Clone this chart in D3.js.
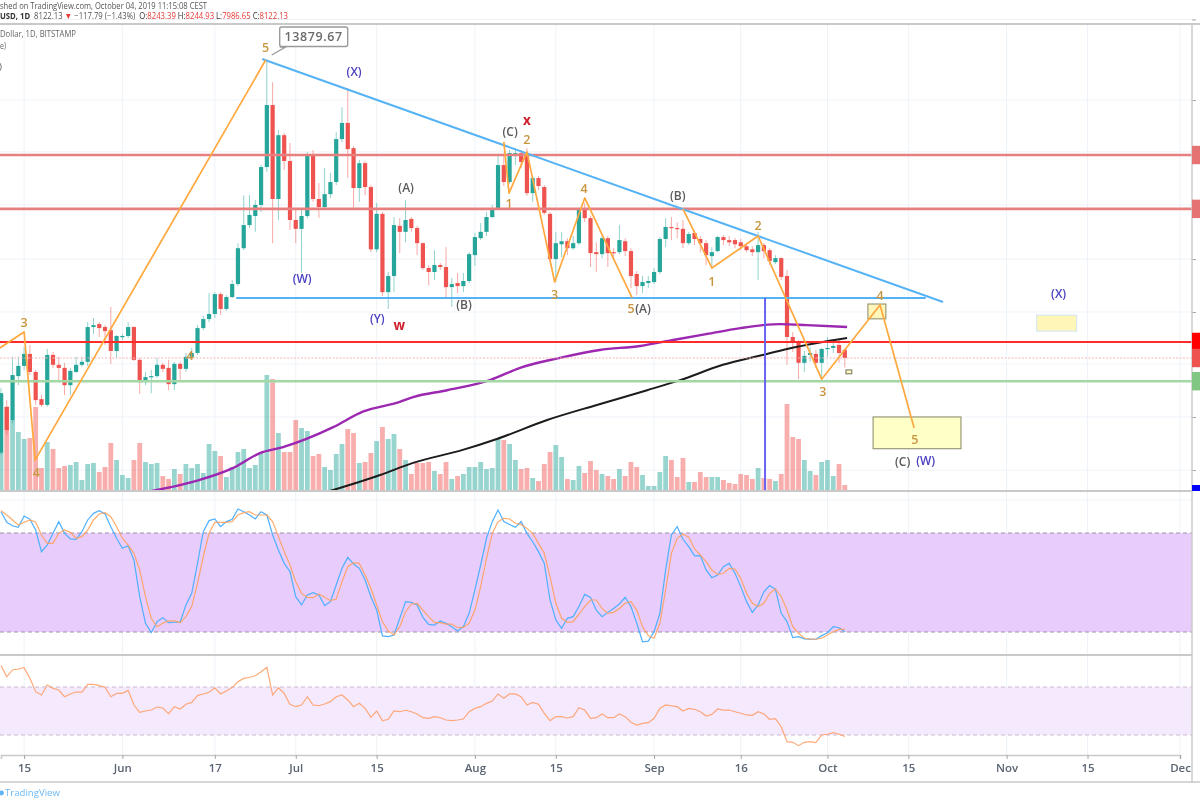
<!DOCTYPE html>
<html><head><meta charset="utf-8">
<script src="https://cdn.jsdelivr.net/npm/d3@7"></script>
<style>
html,body{margin:0;padding:0;background:#fff;overflow:hidden}
svg{display:block;filter:blur(.45px)}
text{font-family:"Open Sans","Liberation Sans",sans-serif}
</style></head><body>
<svg id="c" width="1200" height="800"></svg>
<script>
// ---------- data ----------
const opens=[6850,7440,7265,7862,8008,8182,7921,7543,7465,8167,8023,7979,7735,7921,8023,8066,8587,8633,8587,8540,8225,8435,8450,8587,8095,7777,7848,7862,8023,7979,7749,8037,7965,8139,8196,8571,8711,8791,9111,8871,9063,9277,9895,10315,10485,10695,11450,12800,10810,12125,11575,10410,10245,10485,11700,10810,10655,10905,11145,12040,12395,11845,11025,11530,11045,9875,10525,9143,9413,10300,10190,10430,10260,9985,9549,9480,9600,9566,9226,9294,9243,9328,9773,10075,10190,10465,10620,11490,11145,11720,11740,11740,10925,11225,11045,10525,9703,9965,10020,9895,9985,10600,10445,9825,9790,10075,9825,9825,10020,9843,9447,9243,9294,9311,9480,10060,10280,10260,10245,9985,10170,10060,9985,9755,9843,10095,10040,10040,10000,9930,9875,9825,9950,9860,9650,9720,9413,8435,8360,8052,8167,8182,8052,8255,8270,8315,8243];
const highs=[7693,7530,8139,8139,8285,8315,7950,7600,8255,8210,8139,8052,7979,8139,8139,8664,8727,8664,8617,8903,8465,8480,8664,8602,8124,7921,7950,8124,8052,8095,8066,8066,8196,8270,8617,8760,9127,9143,9143,9095,9345,9985,10885,10885,10790,11490,13880,13335,12235,12170,11955,10600,10640,11760,11805,11125,11430,11330,12190,12750,13195,11890,11595,11575,11085,10735,10560,9480,10465,10445,10790,10465,10300,10000,9600,9860,9635,9913,9380,9464,9464,9825,10170,10355,10560,10695,11700,11740,11805,11845,11805,11845,11265,11265,11085,10560,10190,10190,10075,10115,10640,10735,10485,10000,10115,10115,9895,10315,10075,9895,9498,9413,9413,9549,10095,10445,10465,10370,10410,10190,10225,10115,10040,9913,10115,10130,10115,10075,10060,9985,9930,10190,9985,9895,9773,9738,9515,8510,8390,8225,8285,8240,8270,8435,8375,8390,8245];
const lows=[6825,7070,7225,7735,7950,7877,7465,7440,7440,7979,7805,7600,7600,7907,7994,8008,8480,8435,8315,8037,8124,8390,8420,8080,7612,7735,7625,7833,7921,7665,7665,7805,7921,8095,8167,8540,8664,8727,8775,8839,9047,9243,9860,10260,10190,10560,11350,9985,10410,11390,10225,9985,9464,10445,10755,10445,10600,10830,11085,11975,11225,10640,10755,10885,9825,9825,9079,8871,9143,9808,10000,10190,9773,9515,9260,9345,9515,9063,8903,9127,9143,9294,9583,10040,10115,10445,10600,11065,11105,11490,11430,10870,10755,10985,10505,9650,9311,9738,9773,9860,9950,10370,9566,9480,9720,9566,9720,9790,9755,9209,9095,9127,9209,9277,9447,9913,10040,10075,9895,9950,9950,9825,9600,9566,9825,9950,9930,9895,9860,9825,9755,9345,9720,9600,9617,9345,8023,8210,7819,7921,8066,7979,7819,8139,8196,8052,7986];
const closes=[7625,7135,7877,8008,8182,7921,7530,7465,8167,8023,7979,7735,7936,8023,8066,8587,8617,8571,8525,8225,8450,8450,8587,8095,7777,7848,7862,8023,7965,7749,8037,7965,8139,8196,8571,8711,8791,9111,8871,9063,9277,9895,10315,10505,10695,11450,12800,10810,12125,11575,10410,10245,10485,11700,10810,10655,10905,11145,12040,12395,11825,11025,11530,11045,9875,10525,9143,9413,10315,10190,10410,10260,9985,9549,9480,9600,9566,9226,9277,9243,9328,9790,10095,10190,10465,10600,11490,11145,11740,11740,11555,10925,11225,11065,10545,9703,9985,10020,9895,9985,10600,10445,9808,9790,10075,9808,9808,10040,9843,9413,9243,9311,9328,9480,10060,10280,10260,10245,9985,10150,10060,9985,9773,9825,10095,10040,10000,9965,9930,9860,9825,9950,9843,9668,9720,9396,8435,8345,8052,8153,8196,8052,8255,8270,8300,8196,8122.13];
const volumes=[96,84,71,59,52,53,84,23,49,42,23,25,26,29,11,27,28,19,24,48,31,16,13,31,48,29,27,28,15,12,22,17,27,23,27,18,47,40,35,14,24,39,42,23,26,38,116,112,58,39,39,71,63,60,35,37,24,21,37,47,62,58,28,29,38,50,
64,52,57,42,31,17,28,28,29,20,17,29,12,15,17,24,24,29,22,23,52,51,47,31,22,23,13,10,27,39,46,34,12,11,25,18,30,21,17,15,12,22,15,29,24,16,5,5,19,35,31,14,33,9,9,19,14,14,14,11,8,7,17,16,12,23,13,12,10,17,87,54,52,31,20,16,29,31,15,27,6];
const stochK=[92.9,86.5,84.4,83.4,90.3,88.3,81.8,68.7,72.7,79.8,86.9,79.8,76.4,76.2,80.8,87.9,91.9,93.5,91.5,83.8,76.8,70.7,72.3,63.6,41.4,25.3,19.6,26.3,28.7,25.7,25.9,25.9,36.4,43.4,61.6,80.8,87.5,88.5,83.8,86.9,88.3,94.5,92.9,90.9,88.5,92.9,90.9,78.8,69.7,61.6,56.6,41.4,36.4,42.4,43.8,42.4,36,38.4,48.5,58.6,65.2,61.2,58.6,51.5,41.4,33.3,17.6,17.2,18.2,28.3,38.4,38,36.4,28.9,24.6,24.2,26.7,
25.3,23.2,20.6,23.2,31.3,45.5,60.6,76.8,86.9,93.9,86.9,85.2,83.4,86.9,79.8,74.7,68.7,61.6,39.4,27.3,22.2,28.3,29.3,35.4,42.8,41,33.3,29.3,31.9,34.3,37,41,35.4,25.3,14.1,14.5,20.2,31.3,57.6,78.8,83.8,76.2,71.7,66.1,66.3,57.6,52.9,54.5,59.6,61.6,55.6,47.5,38.4,31.9,36.4,44.4,48.1,45.9,31.3,26.3,16.6,17.2,15.8,15.6,15.6,17.8,19.6,23.2,22.6,20.2];
const stochD=[93.5,90.9,87.9,84.8,86.5,87.9,86.5,78.8,73.7,73.7,79.8,81.8,80.4,76.8,77.8,81.8,87.9,91.5,92.3,89.9,83.8,76.8,72.7,67.7,57.6,41.4,28.3,23.2,25.3,26.7,26.7,25.7,29.3,35.4,49.5,65.7,79.8,86.5,86.5,86.5,86.9,90.9,92.3,92.9,90.9,90.9,90.9,86.9,77.8,68.7,60.6,50.5,43.4,41,40.8,43,41,39,40,50.5,59.6,62,61.6,54.5,46.5,36.4,26.3,20.6,18.2,23.2,32.3,37,37.4,33.3,29.3,25.7,25.7,
24.8,24.8,22.6,22.8,25.3,33.3,47.5,64.6,79.8,86.9,88.9,88.5,85.9,85.2,82.8,79.8,73.7,67.7,53.5,37.4,28.3,25.9,26.3,30.9,35.4,39.4,39.4,34.3,31.3,31.9,34.3,37.4,38.4,33.3,23.2,17.8,16.2,25.3,45.5,67.7,76.8,79.2,77.4,70.3,66.7,62.6,57.6,54.9,55.6,58.6,58.2,52.5,43.4,37.4,35.4,37.4,43.4,46.1,41.4,33.3,23.2,19.2,16.2,15.8,15.6,16.2,18.2,20.2,21.6,21.8];
const rsi=[87.8,78.6,84.2,85,86.1,77.2,66.1,63.3,71.7,68.9,67.5,61.9,64.2,65.8,65.8,72.2,72.2,71.1,69.7,61.9,64.7,64.7,67.2,55,48.9,50,50.8,53.3,52.5,47.8,53.6,51.7,55.6,57.2,62.8,64.2,65.6,69.4,64.2,66.7,69.7,74.4,77.2,78.1,79.4,82.8,86.4,63.3,69.4,64.7,55.6,53.6,55,61.9,55,54.4,55.8,57.8,61.9,63.3,59.2,53.6,56.4,52.2,44.7,50,41.9,43.1,50,49.4,50.6,49.4,47.5,44.4,43.9,45.3,44.4,
42.5,41.9,42.5,43.3,49.4,52.2,53.6,56.4,58.3,64.2,60.6,64.2,64.2,61.9,55,57.2,55.6,48.1,41.9,45.3,45.3,44.2,45.3,52.8,50.8,43.9,44.4,47.5,44.4,44.4,47.5,45.3,40.6,38.3,39.7,40.3,43.9,52.2,55,54.2,53.6,50,52.2,51.4,49.4,45.8,47.2,51.7,50.8,50.8,49.4,48.1,46.7,46.4,49.4,47.5,43.1,43.6,36.9,24.4,23.9,21.1,23.9,24.4,23.6,30,30.6,31.9,30.6,28.9];
// [days since 11 May, price]
const maPurple=[[26.1,6394],[34.4,6524],[40.1,6664],[44.8,6845],[48.8,6920],[57.4,7170],[62.6,7375],[69,7505],[71.3,7570],[77.2,7665],[84.6,7805],[89.8,7979],[96.7,8124],[103.6,8240],[110.6,8300],[116.3,8390],[122.1,8480],[127.9,8570],[131.8,8617],[134.8,8633],[139.4,8617],[146.4,8587]];
const maBlack=[[56.9,6394],[65.6,6581],[71.3,6726],[79.9,6885],[85.8,7021],[94.5,7265],[103.1,7465],[111.8,7665],[117.5,7805],[124.9,8023],[131.8,8167],[136,8255],[141.2,8345],[146.4,8420]];
const trendUpper=[[45.2,13905],[163,8982]];
const trendLower=[[40.7,9048],[160,9048]];
const waveA=[[-0.2,8270],[4,8511],[5.9,6760],[45.8,13880]];
const waveB=[[87,11978],[87.9,10925],[91,11765],[95.8,9311],[101,10830],[109.2,9048]];
const waveC=[[118,10620],[123,9549],[131,10115],[142,7819],[152.1,8934],[158,7161]];
const blueVertical=[132.2,9048];
const levelPrices=[11700,10620,8360,8122.13,7790];
const levelColors=["#e77f7f","#e77f7f","#ff2a2a","#f6b6b6","#a3d7a3"];
const levelWidths=[2.6,2.6,2,1,2.6];
const tagColors=["#e57373","#e57373","#ff0000","#ef5350","#81c784"];
const gridPrices=[14930,12915,11765,10695,9703,8823,8037,7305,6640];
const boxes=[ // [day0, price0, day1, price1, fill, stroke]
 [150,8950,153.1,8715,"#fff6bb","#9a9a78"],
 [179.2,8773,186.1,8525,"#fff6b8","#d6e8ee"],
 [150.9,7305,166.1,6900,"#ffffc8","#9a9a78"],
 [146.2,7950,147.2,7895,"#fff6bb","#8a8a70"]];
const tickDates=[[2019,4,15,"15"],[2019,5,1,"Jun"],[2019,5,17,"17"],[2019,6,1,"Jul"],[2019,6,15,"15"],[2019,7,1,"Aug"],[2019,7,15,"15"],[2019,8,1,"Sep"],[2019,8,16,"16"],[2019,9,1,"Oct"],[2019,9,15,"15"],[2019,10,1,"Nov"],[2019,10,15,"15"],[2019,11,1,"Dec"]];
const waveLabels=[["5",45.8,14183,"o"],["3",4,8664,"o"],["4",6.1,6605,"o"],["4",32.7,8153,"o"],["2",91,12040,"o"],["1",87.9,10715,"o"],["4",100.9,11025,"o"],["3",95.8,9111,"o"],["5",109,8871,"o"],["2",131,10315,"o"],["1",123,9328,"o"],["3",142.2,7652,"o"],["4",152.1,9095,"o"],["5",158.1,7021,"o"],
 ["(X)",61.1,13585,"b"],["(W)",52.1,9362,"b"],["(Y)",65.1,8727,"b"],["(X)",183,9127,"b"],["(W)",160,6760,"b"],
 ["(C)",88.1,12215,"k"],["(A)",70.1,11045,"k"],["(B)",80.1,8950,"k"],["(A)",111.1,8871,"k"],["(B)",117.1,10885,"k"],["(C)",156,6745,"k"],
 ["x",91,12460,"r"],["w",68.9,8617,"r"]];
const labelColors={o:"#c9963f",b:"#4a40c0",k:"#5a5a5a",r:"#d0202e"};
const headerLine1="shed on TradingView.com, October 04, 2019 11:15:08 CEST";
// text, colour, bold
const headerParts=[["USD, 1D  ","#333",true],["8122.13 ","#555",false],["▼ ","#e53935",false],["−117.79 (−1.43%)  ","#555",false],["O:","#333",false],["8243.39 ","#e53935",false],["H:","#333",false],["8244.93 ","#e53935",false],["L:","#333",false],["7986.65 ","#e53935",false],["C:","#333",false],["8122.13","#e53935",false]];
const legendLines=[["Dollar, 1D, BITSTAMP",0,37,76],["e)",0,49,6],[")",-1,70,3]];
const highLabel="13879.67";

// ---------- scales ----------
const start=new Date(2019,4,11);
const dayToDate=d=>new Date(+start+d*864e5);
const x=d3.scaleTime().domain([start,new Date(2019,11,1)]).range([1,1180]);
const y=d3.scaleLog().domain([8122.13,13879.67]).range([358,60]);
const yVol=d3.scaleLinear().domain([0,120]).range([491,371]);
const yStoch=d3.scaleLinear().domain([20,80]).range([632,533]);
const yRsi=d3.scaleLinear().domain([30,70]).range([735,687]);
const X=d=>x(dayToDate(d));
const AXIS_X=1192,PANE_TOP=25,MAIN_BOTTOM=491,STOCH_BOTTOM=655,AXIS_Y=755,BOTTOM=782;

const svg=d3.select("#c");
svg.append("rect").attr("width",1200).attr("height",800).attr("fill","#fff");
const defs=svg.append("defs");
defs.append("clipPath").attr("id","m").append("rect").attr("x",0).attr("y",PANE_TOP).attr("width",AXIS_X).attr("height",MAIN_BOTTOM-PANE_TOP);
defs.append("clipPath").attr("id","s").append("rect").attr("x",0).attr("y",MAIN_BOTTOM).attr("width",AXIS_X).attr("height",STOCH_BOTTOM-MAIN_BOTTOM);
defs.append("clipPath").attr("id","r").append("rect").attr("x",0).attr("y",STOCH_BOTTOM).attr("width",AXIS_X).attr("height",AXIS_Y-STOCH_BOTTOM);

// ---------- grid ----------
const tickValues=tickDates.map(t=>new Date(t[0],t[1],t[2]));
const tickLabels=new Map(tickValues.map((d,i)=>[+d,tickDates[i][3]]));
const grid=svg.append("g").attr("stroke","#eef3f9").attr("stroke-width",1);
grid.selectAll("line.v").data(tickValues).join("line").attr("class","v").attr("x1",d=>x(d)).attr("x2",d=>x(d)).attr("y1",PANE_TOP).attr("y2",AXIS_Y);
grid.selectAll("line.h").data(gridPrices).join("line").attr("class","h").attr("x1",0).attr("x2",AXIS_X).attr("y1",d=>y(d)).attr("y2",d=>y(d));
const stochGrid=[100,60,40],rsiGrid=[60,40];
grid.selectAll("line.s").data(stochGrid).join("line").attr("class","s").attr("x1",0).attr("x2",AXIS_X).attr("y1",d=>yStoch(d)).attr("y2",d=>yStoch(d));
grid.selectAll("line.r").data(rsiGrid).join("line").attr("class","r").attr("x1",0).attr("x2",AXIS_X).attr("y1",d=>yRsi(d)).attr("y2",d=>yRsi(d));

// ---------- main pane ----------
const main=svg.append("g").attr("clip-path","url(#m)");
const idx=d3.range(closes.length);
const up=i=>closes[i]>=opens[i];
main.append("g").selectAll("rect").data(idx).join("rect")
 .attr("x",i=>X(i)-2.4).attr("width",4.8).attr("y",i=>yVol(volumes[i])).attr("height",i=>yVol(0)-yVol(volumes[i]))
 .attr("fill",i=>up(i)?"#26a69a":"#ef5350").attr("opacity",.47);
const line=d3.line().x(d=>X(d[0])).y(d=>y(d[1]));
const smooth=d3.line().x(d=>X(d[0])).y(d=>y(d[1])).curve(d3.curveMonotoneX);
main.append("g").selectAll("line").data(idx).join("line")
 .attr("x1",i=>X(i)).attr("x2",i=>X(i)).attr("y1",i=>y(highs[i])).attr("y2",i=>y(lows[i]))
 .attr("stroke",i=>up(i)?"#26a69a":"#ef5350").attr("stroke-width",1).attr("opacity",.5);
main.append("g").selectAll("rect").data(idx).join("rect")
 .attr("x",i=>X(i)-2.1).attr("width",4.2)
 .attr("y",i=>y(Math.max(opens[i],closes[i])))
 .attr("height",i=>Math.max(1.2,Math.abs(y(opens[i])-y(closes[i]))))
 .attr("fill",i=>up(i)?"#26a69a":"#ef5350");
// moving averages
main.append("path").attr("d",smooth(maPurple)).attr("fill","none").attr("stroke","#9c27b0").attr("stroke-width",2.4);
main.append("path").attr("d",smooth(maBlack)).attr("fill","none").attr("stroke","#1c1c1c").attr("stroke-width",2);
// levels
main.append("g").selectAll("line").data(levelPrices).join("line")
 .attr("x1",0).attr("x2",AXIS_X).attr("y1",d=>y(d)).attr("y2",d=>y(d))
 .attr("stroke",(d,i)=>levelColors[i]).attr("stroke-width",(d,i)=>levelWidths[i])
 .attr("stroke-dasharray",(d,i)=>i===3?"2 1.5":null);
// boxes
main.append("g").selectAll("rect").data(boxes).join("rect")
 .attr("x",d=>X(d[0])).attr("width",d=>X(d[2])-X(d[0])).attr("y",d=>y(d[1])).attr("height",d=>y(d[3])-y(d[1]))
 .attr("fill",d=>d[4]).attr("stroke",d=>d[5]).attr("stroke-width",1.2);
// trend lines
[trendUpper,trendLower].forEach(t=>main.append("path").attr("d",line(t)).attr("fill","none").attr("stroke","#55b3f5").attr("stroke-width",2));
main.append("line").attr("x1",X(blueVertical[0])).attr("x2",X(blueVertical[0])).attr("y1",y(blueVertical[1])).attr("y2",MAIN_BOTTOM).attr("stroke","#6a62f2").attr("stroke-width",2);
// waves
[waveA,waveB,waveC].forEach(w=>main.append("path").attr("d",line(w)).attr("fill","none").attr("stroke","#ffa83d").attr("stroke-width",1.7).attr("stroke-linejoin","round"));
// labels
main.append("g").selectAll("text").data(waveLabels).join("text")
 .attr("x",d=>X(d[1])).attr("y",d=>y(d[2])).attr("text-anchor","middle").attr("dominant-baseline","central")
 .attr("font-size",d=>d[3]==="r"?13.5:d[3]==="o"?12.5:12).attr("font-weight",d=>d[3]==="r"?700:600)
 .attr("fill",d=>labelColors[d[3]]).text(d=>d[0]);

// ---------- stoch pane ----------
const stoch=svg.append("g").attr("clip-path","url(#s)");
stoch.append("rect").attr("x",0).attr("width",AXIS_X).attr("y",yStoch(80)).attr("height",yStoch(20)-yStoch(80)).attr("fill","#e8ccfc");
stoch.selectAll("line.b").data([80,20]).join("line").attr("class","b").attr("x1",0).attr("x2",AXIS_X).attr("y1",d=>yStoch(d)).attr("y2",d=>yStoch(d))
 .attr("stroke","#a08fa8").attr("stroke-width",1.2).attr("stroke-dasharray","4 3");
const lineK=d3.line().x((d,i)=>X(i)).y(d=>yStoch(d));
stoch.append("path").attr("d",lineK(stochK)).attr("fill","none").attr("stroke","#4fb0ff").attr("stroke-width",1.2);
stoch.append("path").attr("d",lineK(stochD)).attr("fill","none").attr("stroke","#ff9d52").attr("stroke-width",1.2).attr("opacity",.85);

// ---------- rsi pane ----------
const rp=svg.append("g").attr("clip-path","url(#r)");
rp.append("rect").attr("x",0).attr("width",AXIS_X).attr("y",yRsi(70)).attr("height",yRsi(30)-yRsi(70)).attr("fill","#f5e9fd");
rp.selectAll("line.b").data([70,30]).join("line").attr("class","b").attr("x1",0).attr("x2",AXIS_X).attr("y1",d=>yRsi(d)).attr("y2",d=>yRsi(d))
 .attr("stroke","#c9bccf").attr("stroke-width",1.2).attr("stroke-dasharray","4 3");
const lineR=d3.line().x((d,i)=>X(i)).y(d=>yRsi(d));
rp.append("path").attr("d",lineR(rsi)).attr("fill","none").attr("stroke","#ff9b63").attr("stroke-width",1.2).attr("opacity",.85);

// ---------- axes and panels ----------
const frame="#c9c9c9";
const xAxis=d3.axisBottom(x).tickValues(tickValues).tickSize(4).tickPadding(5).tickFormat(d=>tickLabels.get(+d));
const gx=svg.append("g").attr("transform",`translate(0,${AXIS_Y})`).call(xAxis);
gx.select(".domain").attr("stroke",frame).attr("stroke-width",1.6);
gx.selectAll(".tick line").attr("stroke","#a5a5a5");
gx.selectAll(".tick text").attr("font-size",11.5).attr("font-weight",600).attr("fill","#5a6472").attr("font-family",'"Open Sans",sans-serif');
const yAxis=d3.axisRight(y).tickValues(gridPrices).tickSize(4).tickFormat("");
const gy=svg.append("g").attr("transform",`translate(${AXIS_X},0)`).call(yAxis);
gy.select(".domain").remove();
gy.selectAll(".tick line").attr("stroke","#a5a5a5");
svg.selectAll("line.panel").data([[0,1200,PANE_TOP-1,PANE_TOP-1,2],[0,AXIS_X,MAIN_BOTTOM,MAIN_BOTTOM,2],[0,AXIS_X,STOCH_BOTTOM,STOCH_BOTTOM,2],[0,1200,BOTTOM,BOTTOM,1.6],[AXIS_X,AXIS_X,PANE_TOP,BOTTOM,1.4]])
 .join("line").attr("class","panel").attr("x1",d=>d[0]).attr("x2",d=>d[1]).attr("y1",d=>d[2]).attr("y2",d=>d[3]).attr("stroke",frame).attr("stroke-width",d=>d[4]);
// price tags
svg.append("g").selectAll("rect").data(levelPrices).join("rect")
 .attr("x",AXIS_X).attr("width",8).attr("y",d=>y(d)-9.2).attr("height",18.4).attr("fill",(d,i)=>tagColors[i]);
svg.append("rect").attr("x",AXIS_X).attr("width",8).attr("y",yVol(volumes[volumes.length-1])).attr("height",yVol(0)-yVol(volumes[volumes.length-1])).attr("fill","#0000ff");

// ---------- header ----------
svg.append("text").attr("x",0).attr("y",9).attr("font-size",9).attr("fill","#555").attr("textLength",207).attr("lengthAdjust","spacingAndGlyphs").text(headerLine1);
const headerText=svg.append("text").attr("x",0).attr("y",19).attr("font-size",8.6).attr("xml:space","preserve").style("white-space","pre").attr("textLength",288).attr("lengthAdjust","spacingAndGlyphs");
headerText.selectAll("tspan").data(headerParts).join("tspan").attr("fill",d=>d[1]).attr("font-weight",d=>d[2]?700:400).text(d=>d[0]);
svg.append("g").selectAll("text").data(legendLines).join("text").attr("x",d=>d[1]).attr("y",d=>d[2]).attr("font-size",9)
 .attr("textLength",d=>d[3]).attr("lengthAdjust","spacingAndGlyphs").attr("fill","#666").text(d=>d[0]);

// ---------- high callout ----------
const hx=X(45.8),hy=y(13880);
const callout=svg.append("g");
callout.append("path").attr("d",`M${hx+6},${hy-5} L${hx+20},${hy-13} L${hx+14},${hy-13}`).attr("fill","#fff").attr("stroke","#9a9a9a").attr("stroke-width",1.4);
callout.append("rect").attr("x",hx+14).attr("y",hy-33).attr("width",68).attr("height",19.5).attr("rx",2).attr("fill","#fff").attr("stroke","#9a9a9a").attr("stroke-width",1.4);
callout.append("text").attr("x",hx+48).attr("y",hy-18.5).attr("text-anchor","middle").attr("font-size",12.5).attr("font-weight",600).attr("letter-spacing",.6).attr("fill","#6a6a6a").text(highLabel);

// ---------- footer ----------
svg.append("circle").attr("cx",1.5).attr("cy",793).attr("r",2.4).attr("fill","#5fb3f5");
svg.append("text").attr("x",5).attr("y",796).attr("font-size",9.6).attr("fill","#6db9f5").text("TradingView");
</script>
</body></html>
